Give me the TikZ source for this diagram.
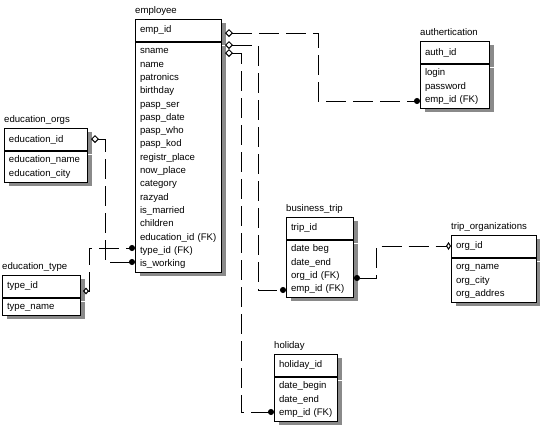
\documentclass[tikz,border=0pt]{standalone}
\usepackage{fontspec}
\setmainfont{Liberation Sans}
\usepackage{xcolor}
\definecolor{cLine}{HTML}{000000}
\definecolor{cShade}{HTML}{8A8A8A}
\usetikzlibrary{positioning,arrows.meta,calc,shadows}
\tikzset{
  ent-key/.style={draw=cLine,line width=1pt,fill=white,anchor=north west,
    minimum height=22pt,inner xsep=4.5pt,inner ysep=0pt,align=left,text width=#1,
    drop shadow={shadow xshift=4pt,shadow yshift=-3.5pt,opacity=1,fill=cShade}},
  ent-att/.style={draw=cLine,line width=1pt,fill=white,
    inner xsep=4.5pt,inner ysep=2pt,align=left,text width=#1,
    execute at begin node=\strut,execute at end node=\strut,
    drop shadow={shadow xshift=4pt,shadow yshift=-3.5pt,opacity=1,fill=cShade}},
  ent-title/.style={inner sep=0pt,anchor=base west},
  % связь: пунктир, ромб у родителя, точка у потомка
  rel-line/.style={line width=1pt,draw=cLine,dash pattern=on 20pt off 7pt},
  rel-ends/.style={{Diamond[open,length=8pt,width=8pt]}-{Circle[length=6pt]}},
  rel-ends-small/.style={{Diamond[open,length=6pt,width=7pt]}-{Circle[length=6pt]}},
  rel-ends-back/.style={{Circle[length=6pt]}-{Diamond[open,length=5pt,width=8pt]}},
}
\begin{document}
\begin{tikzpicture}[x=1pt,y=-1pt,every node/.style={font=\fontsize{9.6}{13.3}\selectfont}]
  \useasboundingbox (0,0) rectangle (540,440);
  % employee
  \node[ent-key=77pt] (emp) at (135,19) {emp\_id};
  \node[ent-att=77pt,below=0pt of emp] (emp-att) {sname\\name\\patronics\\birthday\\pasp\_ser\\pasp\_date\\pasp\_who\\pasp\_kod\\registr\_place\\now\_place\\category\\razyad\\is\_married\\children\\education\_id (FK)\\type\_id (FK)\\is\_working};
  \node[above right=6pt and 0pt of emp.north west,ent-title] (emp-name) {employee};
  % authertication
  \node[ent-key=60pt] (auth) at (420,41) {auth\_id};
  \node[ent-att=60pt,below=0pt of auth] (auth-att) {login\\password\\emp\_id (FK)};
  \node[above right=6pt and 0pt of auth.north west,ent-title] (auth-name) {authertication};
  % education_orgs
  \node[ent-key=74pt] (eo) at (4,128) {education\_id};
  \node[ent-att=74pt,below=0pt of eo] (eo-att) {education\_name\\education\_city};
  \node[above right=6pt and 0pt of eo.north west,ent-title] (eo-name) {education\_orgs};
  % education_type
  \node[ent-key=69pt] (et) at (2,275) {type\_id};
  \node[ent-att=69pt,below=0pt of et] (et-att) {type\_name};
  \node[above right=6pt and 0pt of et.north west,ent-title] (et-name) {education\_type};
  % business_trip
  \node[ent-key=58pt] (bt) at (286,217) {trip\_id};
  \node[ent-att=58pt,below=0pt of bt] (bt-att) {date beg\\date\_end\\org\_id (FK)\\emp\_id (FK)};
  \node[above right=6pt and 0pt of bt.north west,ent-title] (bt-name) {business\_trip};
  % trip_organizations
  \node[ent-key=76pt] (tor) at (451,235) {org\_id};
  \node[ent-att=76pt,below=0pt of tor] (tor-att) {org\_name\\org\_city\\org\_addres};
  \node[above right=6pt and 0pt of tor.north west,ent-title] (tor-name) {trip\_organizations};
  % holiday
  \node[ent-key=54pt] (hol) at (274,354) {holiday\_id};
  \node[ent-att=54pt,below=0pt of hol] (hol-att) {date\_begin\\date\_end\\emp\_id (FK)};
  \node[above right=6pt and 0pt of hol.north west,ent-title] (hol-name) {holiday};

  \draw[rel-line,rel-ends] ($(emp.north east)+(3,14)$) -| ($(auth-att.north west)+(-102,37)$) -- ($(auth-att.north west)+(0,37)$);
  \draw[rel-line,rel-ends] ($(emp.north east)+(3,26)$) -| ($(bt-att.north west)+(-28,50)$) -- ($(bt-att.north west)+(0,50)$);
  \draw[rel-line,rel-ends] ($(emp.north east)+(3,34)$) -| ($(hol-att.north west)+(-33,35)$) -- ($(hol-att.north west)+(0,35)$);
  \draw[rel-line,rel-ends] ($(eo.north east)+(3,11)$) -| ($(emp-att.north west)+(-30,220)$) -- ($(emp-att.north west)+(0,220)$);
  \draw[rel-line,rel-ends-small] ($(et.north east)+(2,16)$) -| ($(emp-att.north west)+(-46,206)$) -- ($(emp-att.north west)+(0,206)$);
  \draw[rel-line,rel-ends-back] ($(bt-att.north east)+(0,38)$) -| ($(tor.north west)+(-75,11)$) -- ($(tor.north west)+(0,11)$);
\end{tikzpicture}
\end{document}
